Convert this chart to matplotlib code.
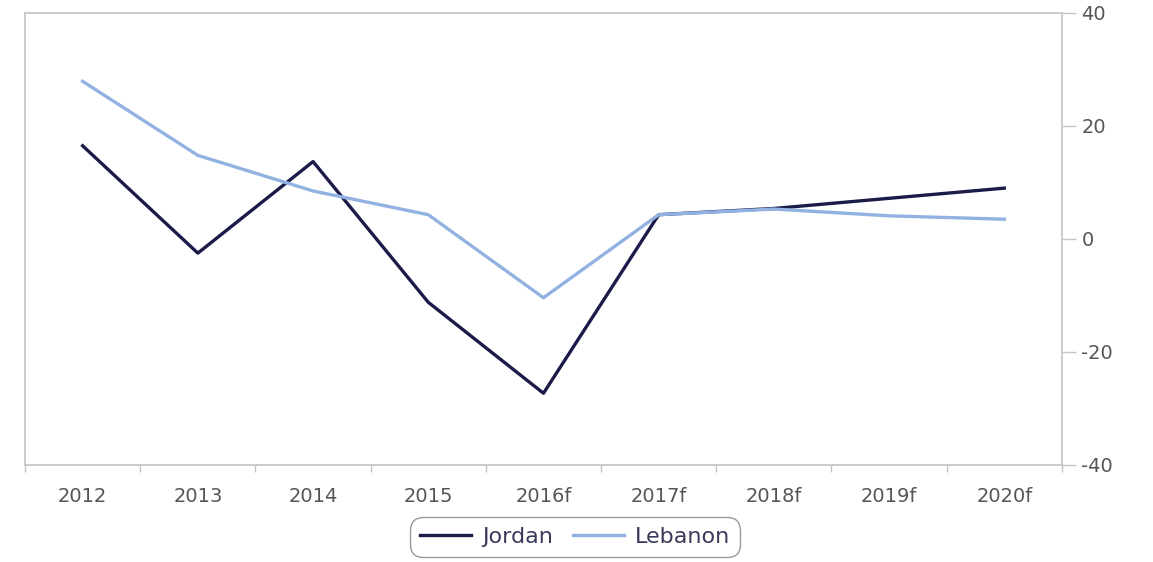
import numpy as np
import matplotlib.pyplot as plt
from matplotlib.ticker import FixedLocator

plt.rcParams['font.family'] = ['DejaVu Sans']
plt.rcParams['axes.unicode_minus'] = False

years = ['2012', '2013', '2014', '2015', '2016f', '2017f', '2018f', '2019f', '2020f']
jordan = [16.5, -2.5, 13.7, -11.2, -27.3, 4.3, 5.4, 7.2, 9.0]
lebanon = [27.9, 14.8, 8.5, 4.3, -10.4, 4.3, 5.3, 4.1, 3.5]

grey = '#c4c4c4'
txt = '#555555'

fig = plt.figure(figsize=(11.53, 5.62), dpi=100)
ax = fig.add_axes([0.0217, 0.1726, 0.8993, 0.8043])

x = np.arange(len(years))
ax.plot(x, jordan, color='#1b1b4a', lw=2.4, label='Jordan')
ax.plot(x, lebanon, color='#92b2e2', lw=2.4, label='Lebanon')

ax.set_xlim(-0.5, len(years) - 0.5)
ax.set_ylim(-40, 40)

ax.set_xticks(x)
ax.set_xticklabels(years)
ax.xaxis.set_minor_locator(FixedLocator(np.arange(-0.5, len(years), 1)))
ax.tick_params(axis='x', which='major', length=0, pad=16, labelsize=14, labelcolor=txt)
ax.tick_params(axis='x', which='minor', length=5, color=grey, width=1)

ax.yaxis.tick_right()
ax.set_yticks([-40, -20, 0, 20, 40])
ax.tick_params(axis='y', length=10, color=grey, width=1, pad=4, labelsize=14, labelcolor=txt)

for s in ax.spines.values():
    s.set_color(grey)
    s.set_linewidth(1.2)

leg = fig.legend(loc='center', bbox_to_anchor=(0.4987, 0.044), ncol=2, frameon=True,
                 fancybox=True, edgecolor='#999999', fontsize=16, handlelength=2.3,
                 handletextpad=0.5, columnspacing=0.9, labelcolor='#3a3a5a',
                 borderpad=0.25, framealpha=1)
leg.get_frame().set_boxstyle('round', pad=0.2, rounding_size=0.6)

fig.savefig('out.png', dpi=100)
